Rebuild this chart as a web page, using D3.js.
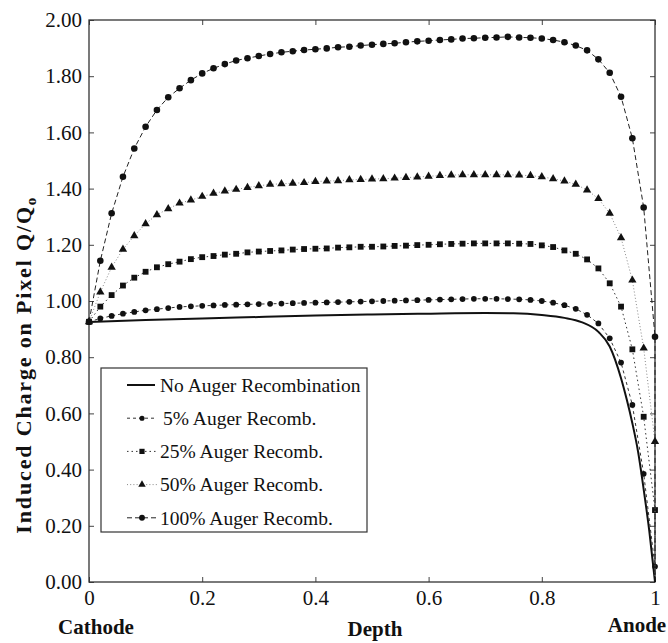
<!DOCTYPE html>
<html>
<head>
<meta charset="utf-8">
<script src="https://cdn.jsdelivr.net/npm/d3@7"></script>
<style>
  body { margin: 0; background: #fff; }
  svg text { font-family: "Liberation Serif", "Times New Roman", Times, serif !important; fill: #111; }
</style>
</head>
<body>
<div id="chart"></div>
<script>
// induced charge vs depth, with and without auger recombination

// depth grid where the markers sit (cathode = 0, anode = 1)
const depth = [0, 0.02, 0.04, 0.06, 0.08, 0.10, 0.12, 0.14, 0.16, 0.18,
    0.20, 0.22, 0.24, 0.26, 0.28, 0.30, 0.32, 0.34, 0.36, 0.38,
    0.40, 0.42, 0.44, 0.46, 0.48, 0.50, 0.52, 0.54, 0.56, 0.58,
    0.60, 0.62, 0.64, 0.66, 0.68, 0.70, 0.72, 0.74, 0.76, 0.78,
    0.80, 0.82, 0.84, 0.86, 0.88, 0.90, 0.92, 0.94, 0.96, 0.98, 1.00];

const auger5 = [0.926, 0.938, 0.947, 0.955, 0.961, 0.967, 0.971, 0.975, 0.979, 0.981,
    0.983, 0.984, 0.986, 0.987, 0.988, 0.989, 0.990, 0.991, 0.992, 0.993,
    0.994, 0.995, 0.996, 0.997, 0.998, 0.999, 1.000, 1.001, 1.002, 1.003,
    1.004, 1.005, 1.006, 1.007, 1.008, 1.008, 1.008, 1.007, 1.006, 1.004,
    1.000, 0.994, 0.985, 0.972, 0.951, 0.920, 0.867, 0.781, 0.630, 0.385, 0.055];

const auger25 = [0.926, 0.980, 1.021, 1.055, 1.083, 1.104, 1.120, 1.131, 1.140, 1.149,
    1.156, 1.160, 1.165, 1.168, 1.173, 1.176, 1.178, 1.180, 1.183, 1.185,
    1.186, 1.187, 1.190, 1.191, 1.193, 1.193, 1.194, 1.196, 1.197, 1.199,
    1.200, 1.202, 1.203, 1.204, 1.205, 1.205, 1.205, 1.205, 1.204, 1.203,
    1.198, 1.192, 1.180, 1.168, 1.148, 1.116, 1.063, 0.980, 0.828, 0.588, 0.256];

const auger50 = [0.926, 1.032, 1.120, 1.184, 1.232, 1.275, 1.307, 1.328, 1.348, 1.359,
    1.372, 1.383, 1.391, 1.397, 1.404, 1.410, 1.415, 1.417, 1.419, 1.421,
    1.425, 1.427, 1.428, 1.431, 1.432, 1.434, 1.435, 1.437, 1.439, 1.441,
    1.444, 1.446, 1.448, 1.449, 1.449, 1.449, 1.449, 1.449, 1.448, 1.446,
    1.442, 1.435, 1.427, 1.415, 1.395, 1.364, 1.312, 1.225, 1.074, 0.832, 0.500];

const auger100 = [0.926, 1.143, 1.312, 1.442, 1.543, 1.620, 1.680, 1.725, 1.757, 1.786,
    1.810, 1.828, 1.843, 1.856, 1.864, 1.872, 1.879, 1.885, 1.889, 1.893,
    1.896, 1.899, 1.903, 1.905, 1.909, 1.912, 1.915, 1.917, 1.921, 1.924,
    1.926, 1.929, 1.931, 1.934, 1.935, 1.937, 1.938, 1.940, 1.938, 1.937,
    1.934, 1.929, 1.921, 1.909, 1.892, 1.860, 1.812, 1.727, 1.579, 1.333, 0.873];

// charge where every curve lands on the anode
const anodeEnd = [0.02, 0.02, 0.02, 0.02];

// no auger curve is a plain solid line
const noAugerDepth = [0, 0.1, 0.2, 0.3, 0.4, 0.5, 0.6, 0.7, 0.75, 0.8, 0.84, 0.87,
    0.9, 0.92, 0.94, 0.95, 0.96, 0.97, 0.98, 0.99, 1.0];
const noAuger = [0.925, 0.932, 0.938, 0.943, 0.948, 0.952, 0.955, 0.957, 0.956, 0.950, 0.940, 0.925,
    0.890, 0.838, 0.725, 0.650, 0.565, 0.465, 0.330, 0.180, 0.0];

const seriesNames = ["5% Auger Recomb.", "25% Auger Recomb.", "50% Auger Recomb.", "100% Auger Recomb."];
const xTicks = [0, 0.2, 0.4, 0.6, 0.8, 1];
const yTicks = [0, 0.2, 0.4, 0.6, 0.8, 1.0, 1.2, 1.4, 1.6, 1.8, 2.0];

const serif = '"Liberation Serif", "Times New Roman", Times, serif';

var margin = {top: 20, right: 13, bottom: 61, left: 89};
var width = 668 - margin.left - margin.right;
var height = 643 - margin.top - margin.bottom;

const x = d3.scaleLinear().domain([0, 1]).range([0, width]);
const y = d3.scaleLinear().domain([0, 2]).range([height, 0]);

const svg = d3.select("#chart")
    .append("svg")
    .attr("width", 668)
    .attr("height", 643)
    .attr("font-family", serif)
    .append("g")
    .attr("transform", "translate(" + margin.left + "," + margin.top + ")");

// ticks, pointing inwards on all four sides
svg.append("g")
    .attr("transform", "translate(0," + height + ")")
    .call(d3.axisBottom(x).tickValues(xTicks).tickSize(-5).tickPadding(8)
        .tickFormat(d => (d === 0 || d === 1) ? d : d.toFixed(1)))
    .call(g => g.select(".domain").remove())
    .attr("font-family", serif)
    .selectAll("text").style("font-size", "21px").style("font-family", serif);

svg.append("g")
    .call(d3.axisLeft(y).tickValues(yTicks).tickSize(-5).tickPadding(7).tickFormat(d3.format(".2f")))
    .call(g => g.select(".domain").remove())
    .attr("font-family", serif)
    .selectAll("text").style("font-size", "21px").style("font-family", serif);

svg.append("g")
    .call(d3.axisTop(x).tickValues(xTicks).tickSize(-5).tickFormat(""))
    .call(g => g.select(".domain").remove());

svg.append("g")
    .attr("transform", "translate(" + width + ",0)")
    .call(d3.axisRight(y).tickValues(yTicks).tickSize(-5).tickFormat(""))
    .call(g => g.select(".domain").remove());

svg.selectAll(".tick line").attr("stroke", "#444");

svg.append("rect")
    .attr("width", width)
    .attr("height", height)
    .attr("fill", "none")
    .attr("stroke", "#333")
    .attr("stroke-width", 1.3);

// line styles per series
const dashes = ["3,3", "1.5,3", "1,2.2", "5,3"];
const strokes = ["#333", "#333", "#888", "#222"];
const symbols = [d3.symbolCircle, d3.symbolSquare, d3.symbolTriangle, d3.symbolCircle];
const symSizes = [26, 34, 30, 34];
const seriesValues = [auger5, auger25, auger50, auger100];

const line = d3.line()
    .x(d => x(d[0]))
    .y(d => y(d[1]));

// no auger, solid
svg.append("path")
    .datum(noAugerDepth.map((d, i) => [d, noAuger[i]]))
    .attr("fill", "none")
    .attr("stroke", "#111")
    .attr("stroke-width", 2)
    .attr("d", line.curve(d3.curveMonotoneX));

seriesValues.forEach(function (vals, s) {
    var pts = depth.map((d, i) => [d, vals[i]]);

    svg.append("path")
        .datum(pts.concat([[1, anodeEnd[s]]]))
        .attr("fill", "none")
        .attr("stroke", strokes[s])
        .attr("stroke-width", 1)
        .attr("stroke-dasharray", dashes[s])
        .attr("d", d3.line().x(d => x(d[0])).y(d => y(d[1])));

    svg.append("g")
        .selectAll("path")
        .data(pts)
        .enter()
        .append("path")
        .attr("transform", d => "translate(" + x(d[0]) + "," + y(d[1]) + ")")
        .attr("d", d3.symbol().type(symbols[s]).size(symSizes[s]))
        .attr("fill", "#111");
});

// legend
const legend = svg.append("g").attr("transform", "translate(12,348)");

legend.append("rect")
    .attr("width", 266)
    .attr("height", 164)
    .attr("fill", "#fff")
    .attr("stroke", "#333")
    .attr("stroke-width", 1.2);

const rowY = d => 17 + d * 33.2;

legend.append("line")
    .attr("x1", 26).attr("x2", 54)
    .attr("y1", rowY(0)).attr("y2", rowY(0))
    .attr("stroke", "#111").attr("stroke-width", 2);

legend.append("text")
    .attr("x", 59).attr("y", rowY(0))
    .attr("dy", "0.35em")
    .style("font-size", "19.5px")
    .text("No Auger Recombination");

seriesNames.forEach(function (name, s) {
    var ly = rowY(s + 1);
    legend.append("line")
        .attr("x1", 26).attr("x2", 56)
        .attr("y1", ly).attr("y2", ly)
        .attr("stroke", strokes[s])
        .attr("stroke-width", 1)
        .attr("stroke-dasharray", dashes[s]);
    legend.append("path")
        .attr("transform", "translate(41," + ly + ")")
        .attr("d", d3.symbol().type(symbols[s]).size(symSizes[s] * 0.8))
        .attr("fill", "#111");
    legend.append("text")
        .attr("x", s === 0 ? 62 : 59).attr("y", ly)
        .attr("dy", "0.35em")
        .style("font-size", "19.5px")
        .text(name);
});

// axis titles
svg.append("text")
    .attr("x", x(0.5) + 3)
    .attr("y", height + 54)
    .attr("text-anchor", "middle")
    .style("font-size", "21px")
    .style("font-weight", "bold")
    .text("Depth");

svg.append("text")
    .attr("x", x(0) + 7)
    .attr("y", height + 52)
    .attr("text-anchor", "middle")
    .style("font-size", "21px")
    .style("font-weight", "bold")
    .text("Cathode");

svg.append("text")
    .attr("x", x(1) - 18)
    .attr("y", height + 50)
    .attr("text-anchor", "middle")
    .style("font-size", "21px")
    .style("font-weight", "bold")
    .text("Anode");

var ylab = svg.append("text")
    .attr("transform", "translate(-58," + (y(0.77)) + ") rotate(-90)")
    .attr("text-anchor", "middle")
    .style("font-size", "22px")
    .style("font-weight", "bold")
    .attr("textLength", 336)
    .attr("lengthAdjust", "spacing");
ylab.append("tspan").text("Induced Charge on Pixel Q/Q");
ylab.append("tspan").attr("dy", "0.3em").style("font-size", "15px").text("o");
</script>
</body>
</html>
